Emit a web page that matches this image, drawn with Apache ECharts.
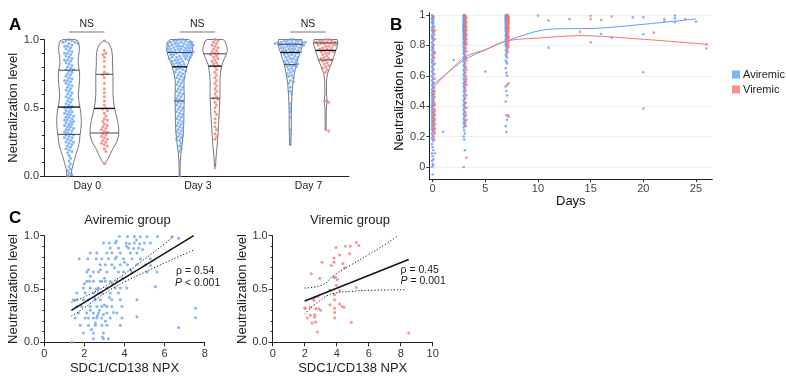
<!DOCTYPE html>
<html><head><meta charset="utf-8">
<script src="https://cdn.jsdelivr.net/npm/echarts@6/dist/echarts.min.js"></script>
<style>html,body{margin:0;padding:0;background:#fff}#c{width:786px;height:383px}</style>
</head><body><div id="c"></div><script>
// ---------------- DATA ----------------
const dayLabels = ['Day 0', 'Day 3', 'Day 7'];
const dayValues = [0, 3, 7];
const nsLabels = ['NS', 'NS', 'NS'];

const av0 = [1.0,0.99,0.99,0.98,0.98,0.97,0.97,0.96,0.95,0.95,0.94,0.93,0.92,0.91,0.90,0.90,0.89,0.88,0.87,0.86,0.85,0.85,0.84,0.83,0.82,0.81,0.80,0.79,0.78,0.78,0.77,0.76,0.75,0.74,0.73,0.72,0.71,0.70,0.70,0.69,0.68,0.67,0.66,0.65,0.64,0.63,0.62,0.61,0.60,0.59,0.58,0.57,0.56,0.55,0.54,0.53,0.52,0.51,0.50,0.50,0.49,0.48,0.47,0.47,0.46,0.45,0.45,0.44,0.43,0.43,0.42,0.41,0.41,0.40,0.40,0.39,0.38,0.38,0.37,0.36,0.36,0.35,0.34,0.34,0.33,0.32,0.32,0.31,0.30,0.30,0.29,0.28,0.28,0.27,0.26,0.25,0.25,0.24,0.23,0.22,0.21,0.20,0.19,0.18,0.17,0.15,0.13,0.11,0.09,0.07,0.05,0.04,0.02,0.01,0.0,-0.05];
const vir0 = [0.99,0.92,0.90,0.89,0.87,0.84,0.80,0.76,0.75,0.74,0.72,0.68,0.64,0.61,0.58,0.55,0.52,0.50,0.49,0.48,0.46,0.44,0.42,0.41,0.40,0.38,0.37,0.36,0.35,0.34,0.33,0.32,0.31,0.30,0.29,0.28,0.27,0.26,0.25,0.24,0.23,0.22,0.20,0.18,0.09];
const av3 = [1.0,1.0,0.99,0.99,0.99,0.98,0.98,0.98,0.98,0.97,0.97,0.97,0.97,0.96,0.96,0.96,0.96,0.95,0.95,0.95,0.95,0.94,0.94,0.94,0.94,0.93,0.93,0.93,0.93,0.92,0.92,0.92,0.92,0.91,0.91,0.91,0.91,0.90,0.90,0.90,0.90,0.89,0.89,0.89,0.88,0.88,0.88,0.87,0.87,0.87,0.86,0.86,0.86,0.85,0.85,0.85,0.84,0.84,0.83,0.83,0.82,0.82,0.81,0.81,0.80,0.80,0.79,0.78,0.78,0.77,0.76,0.76,0.75,0.74,0.73,0.72,0.72,0.71,0.70,0.69,0.68,0.67,0.66,0.65,0.64,0.63,0.62,0.61,0.60,0.59,0.58,0.57,0.56,0.55,0.55,0.54,0.53,0.52,0.51,0.50,0.49,0.48,0.47,0.46,0.45,0.44,0.43,0.42,0.41,0.40,0.39,0.38,0.37,0.36,0.35,0.34,0.33,0.32,0.31,0.30,0.29,0.28,0.27,0.26,0.24,0.22,0.20,0.18,0.11,0.0];
const vir3 = [1.0,0.99,0.98,0.97,0.96,0.95,0.94,0.93,0.92,0.91,0.90,0.90,0.89,0.88,0.87,0.86,0.85,0.84,0.83,0.82,0.81,0.80,0.78,0.76,0.74,0.72,0.70,0.68,0.66,0.64,0.62,0.60,0.58,0.57,0.56,0.54,0.52,0.50,0.47,0.45,0.42,0.39,0.36,0.34,0.31,0.29,0.27,0.06];
const av7 = [1.0,1.0,0.99,0.99,0.99,0.99,0.98,0.98,0.98,0.98,0.98,0.97,0.97,0.97,0.97,0.97,0.96,0.96,0.96,0.96,0.95,0.95,0.95,0.95,0.94,0.94,0.94,0.93,0.93,0.93,0.92,0.92,0.92,0.91,0.91,0.91,0.90,0.90,0.89,0.89,0.88,0.88,0.87,0.87,0.86,0.86,0.85,0.85,0.84,0.84,0.83,0.83,0.82,0.82,0.81,0.81,0.80,0.80,0.79,0.78,0.77,0.76,0.75,0.74,0.73,0.72,0.70,0.69,0.68,0.65,0.62,0.60,0.53,0.50,0.47,0.43,0.34,0.31,0.27,0.23];
const vir7 = [1.0,1.0,0.99,0.99,0.99,0.98,0.98,0.98,0.97,0.97,0.97,0.96,0.96,0.96,0.95,0.95,0.94,0.94,0.93,0.93,0.92,0.92,0.91,0.91,0.90,0.90,0.89,0.88,0.87,0.86,0.86,0.85,0.85,0.84,0.83,0.82,0.81,0.80,0.79,0.78,0.76,0.55,0.54,0.34,0.33];

// violin relative density profiles: [level, relative half width]
const densAv0 = [[1.0,0.45],[0.99,0.68],[0.96,0.78],[0.92,0.8],[0.87,0.72],[0.82,0.7],[0.77,0.8],[0.72,0.82],[0.66,0.78],[0.6,0.72],[0.55,0.75],[0.5,0.85],[0.45,0.92],[0.4,0.95],[0.35,0.92],[0.3,0.85],[0.25,0.8],[0.2,0.68],[0.15,0.5],[0.1,0.35],[0.05,0.22],[0.0,0.16]];
const densVir0 = [[0.99,0.05],[0.97,0.35],[0.93,0.55],[0.88,0.62],[0.82,0.62],[0.75,0.66],[0.68,0.66],[0.6,0.66],[0.55,0.7],[0.5,0.78],[0.45,0.9],[0.4,1.02],[0.35,1.1],[0.3,1.1],[0.25,0.95],[0.2,0.65],[0.15,0.4],[0.12,0.25],[0.09,0.05]];
const densAv3 = [[1.0,0.7],[0.985,0.9],[0.95,0.98],[0.92,1.0],[0.89,0.92],[0.85,0.75],[0.81,0.6],[0.76,0.45],[0.7,0.34],[0.64,0.33],[0.58,0.36],[0.52,0.34],[0.46,0.33],[0.4,0.32],[0.34,0.3],[0.28,0.25],[0.24,0.2],[0.17,0.1],[0.1,0.05],[0.0,0.03]];
const densVir3 = [[1.0,0.6],[0.99,0.75],[0.95,0.9],[0.92,0.95],[0.88,0.82],[0.85,0.67],[0.81,0.51],[0.75,0.42],[0.7,0.38],[0.58,0.38],[0.46,0.32],[0.34,0.25],[0.27,0.2],[0.21,0.15],[0.14,0.08],[0.07,0.04]];
const densAv7 = [[1.0,0.9],[0.963,0.95],[0.93,0.85],[0.9,0.73],[0.86,0.6],[0.826,0.49],[0.79,0.4],[0.75,0.32],[0.68,0.2],[0.58,0.12],[0.46,0.08],[0.34,0.08],[0.23,0.04]];
const densVir7 = [[1.0,0.88],[0.965,0.94],[0.91,0.75],[0.85,0.55],[0.79,0.3],[0.75,0.15],[0.7,0.07],[0.6,0.06],[0.55,0.12],[0.5,0.05],[0.4,0.04],[0.34,0.03]];

// quartiles [Q1, median, Q3]
const qAv0 = [0.305, 0.505, 0.775];
const qVir0 = [0.315, 0.495, 0.745];
const qAv3 = [0.55, 0.80, 0.905];
const qVir3 = [0.57, 0.805, 0.895];
const qAv7 = [0.816, 0.905, 0.965];
const qVir7 = [0.85, 0.92, 0.975];

// panel B: other days
const bAvExtraX = [1,2,5,10,11,11,13,16,17,19,20,20,22,23,23,23,25];
const bAvExtraY = [0.232,0.704,0.628,0.996,0.963,0.784,0.973,0.875,0.851,0.984,0.985,0.873,0.957,0.996,0.978,0.952,0.957];
const bVirExtraX = [14,15,15,15,16,17,20,20,21,22,24,26,26];
const bVirExtraY = [0.89,0.995,0.973,0.82,0.967,0.99,0.623,0.384,0.884,0.973,0.973,0.807,0.779];
// smoothed trend lines
const trendAvX = [0,3,5,7,11,16,25];
const trendAvY = [0.537,0.704,0.77,0.829,0.906,0.914,0.974];
const trendVirX = [0,3,5,7,10,14,20,26];
const trendVirY = [0.518,0.72,0.772,0.829,0.848,0.864,0.84,0.807];

// panel C: SDC1/CD138 NPX vs neutralization level
const cAvX = [3.75,4.15,4.49,4.79,5.12,5.65,6.37,6.70, 2.95,3.24,3.54,4.08,4.25,4.49,4.75,4.99,5.29, 3.29,3.70,4.20,4.45,4.70, 2.29,2.62,3.12,3.37,3.79,4.29,4.62, 1.74,2.17,2.59,2.87,3.20,3.54,3.95,4.37,4.79,5.29, 2.79,3.04,3.37,3.79,4.15,4.62,5.04, 2.12,2.45,2.70,3.12,3.70,3.95,4.37,5.12,5.62, 2.12,2.25,2.45,2.79,2.87,3.04,3.29,3.62, 1.95,2.29,2.70,3.12,3.54,3.79,4.12,5.54, 1.62,2.04,2.45,2.70,2.87,3.29,3.70, 1.45,1.95,2.20,2.54,2.79,3.37,3.79,4.62,7.54, 1.62,1.87,2.29,2.62,2.87,3.12,3.37,3.87, 1.70,2.12,2.45,2.70,3.12,3.62, 1.54,2.04,2.20,2.45,2.62,2.87,3.29,3.87,4.62,7.54, 1.79,2.20,2.54,2.87,3.12,3.79,6.70, 1.95,2.45,2.95, 2.45,2.95,3.20, 1.37, 2.30,2.60,3.00,3.40,2.50,2.75,2.95,3.05,2.30,2.55,2.65,3.50,3.90,4.30,4.10,3.60,4.60,2.80,3.25,1.60,2.00,3.60,4.00,2.35,3.45,3.00,2.20,4.90,5.30,2.90];
const cAvY = [0.993,0.993,0.993,0.99,0.99,0.993,0.99,0.975, 0.931,0.931,0.931,0.931,0.925,0.931,0.925,0.931,0.931, 0.884,0.884,0.884,0.88,0.884, 0.837,0.837,0.837,0.84,0.837,0.837,0.837, 0.784,0.784,0.784,0.784,0.784,0.784,0.784,0.784,0.784,0.784, 0.728,0.728,0.728,0.728,0.728,0.728,0.728, 0.659,0.659,0.659,0.659,0.659,0.659,0.659,0.659,0.659, 0.572,0.572,0.572,0.572,0.572,0.572,0.572,0.572, 0.509,0.509,0.509,0.509,0.509,0.509,0.509,0.52, 0.462,0.462,0.462,0.462,0.462,0.462,0.462, 0.40,0.40,0.40,0.40,0.40,0.40,0.40,0.40,0.32, 0.337,0.337,0.337,0.337,0.337,0.337,0.337,0.337, 0.275,0.275,0.275,0.275,0.275,0.275, 0.228,0.228,0.228,0.228,0.228,0.228,0.228,0.228,0.24,0.23, 0.159,0.159,0.159,0.159,0.159,0.159,0.14, 0.087,0.087,0.087, 0.034,0.034,0.034, 0.0, 0.62,0.50,0.60,0.55,0.42,0.30,0.26,0.20,0.30,0.18,0.25,0.70,0.60,0.68,0.90,0.95,0.96,0.68,0.42,0.40,0.55,0.80,0.75,0.12,0.28,0.35,0.68,0.87,0.72,0.05];
const cVirX = [5.23,5.39,4.54,4.85,3.96,4.18,4.81,3.08,3.83,3.83,3.66,4.39,4.50,2.41,3.91,3.81,2.94,4.04,3.98,5.23,3.56,4.18,2.83,2.62,2.48,2.58,3.87,3.87,2.04,2.35,2.87,3.00,3.58,3.87,4.18,4.33,4.46,3.87,2.35,2.62,2.16,2.62,2.46,3.87,2.68,4.91,2.79,8.50,2.69,2.00];
const cVirY = [0.937,0.909,0.90,0.90,0.89,0.82,0.83,0.75,0.79,0.75,0.72,0.74,0.70,0.644,0.61,0.61,0.60,0.59,0.534,0.515,0.49,0.487,0.43,0.42,0.406,0.393,0.446,0.40,0.32,0.328,0.315,0.30,0.353,0.32,0.36,0.337,0.328,0.28,0.253,0.259,0.228,0.234,0.18,0.228,0.19,0.187,0.096,0.087,0.315,0.32];
// regression fits and 95% confidence bands
const fitAvX = [1.35, 7.45];
const fitAvY = [0.30, 1.0];
const ciAvUpper = [[1.35,0.375],[2,0.426],[2.5,0.471],[3,0.52],[3.5,0.578],[4,0.641],[5,0.781],[6,0.924],[6.45,0.995]];
const ciAvLower = [[1.35,0.245],[2,0.324],[2.5,0.393],[3,0.458],[3.5,0.516],[4,0.567],[5,0.657],[6,0.744],[7,0.828],[7.45,0.865]];
const fitVirX = [2.0, 8.5];
const fitVirY = [0.388, 0.777];
const ciVirUpper = [[2.0,0.509],[3.04,0.534],[3.87,0.634],[4.91,0.727],[5.96,0.82],[7.0,0.915],[7.83,1.0]];
const ciVirLower = [[2.0,0.265],[2.83,0.378],[3.87,0.46],[4.91,0.478],[5.96,0.487],[8.25,0.493]];
const statAv = ['ρ = 0.54', '<', '0.001'];
const statVir = ['ρ = 0.45', '=', '0.001'];

// ---------------- STYLE / LAYOUT ----------------
const FONT = 'Liberation Sans, Arial, sans-serif';
const BLUE = '#619CFF', RED = '#F8766D';
const BLUE_PT = '#64a2f5', RED_PT = '#f57a78';
const GA = {left: 44, top: 39.5, width: 305, height: 136.5};
const XA = {min: -0.391, max: 2.366};
const GB = {left: 429.3, top: 12.7, width: 283, height: 166.4};
const GC1 = {left: 44.3, top: 235.7, width: 160.4, height: 106.6};
const GC2 = {left: 272.7, top: 235.7, width: 160, height: 106.6};
const GROUP_OFF = [-0.165, 0.155];
const VIOLIN_HALF = 13; // px for relative density 1
const pxPerXA = GA.width / (XA.max - XA.min);
const pxPerYA = GA.height;

const violins = [
  {day: 0, g: 0, vals: av0, dens: densAv0, q: qAv0},
  {day: 0, g: 1, vals: vir0, dens: densVir0, q: qVir0},
  {day: 1, g: 0, vals: av3, dens: densAv3, q: qAv3},
  {day: 1, g: 1, vals: vir3, dens: densVir3, q: qVir3},
  {day: 2, g: 0, vals: av7, dens: densAv7, q: qAv7},
  {day: 2, g: 1, vals: vir7, dens: densVir7, q: qVir7}
];

function swarm(vals, d) {
  const idx = vals.map((v, i) => i).sort((a, b) => vals[b] - vals[a]);
  const placed = []; const off = new Array(vals.length).fill(0);
  for (const i of idx) {
    const y = vals[i] * pxPerYA;
    for (let k = 0; k < 400; k++) {
      const o = (k % 2 ? 1 : -1) * Math.ceil(k / 2) * d * 0.5;
      let ok = true;
      for (const p of placed) {
        const dy = p[1] - y;
        if (Math.abs(dy) < d) { const dx = p[0] - o; if (dx * dx + dy * dy < d * d) { ok = false; break; } }
      }
      if (ok) { off[i] = o; placed.push([o, y]); break; }
    }
  }
  return off;
}
function widthAt(dens, y) {
  for (let i = 0; i < dens.length - 1; i++) {
    const a = dens[i], b = dens[i + 1];
    if (y <= a[0] && y >= b[0]) { const t = (a[0] - y) / (a[0] - b[0] || 1); return a[1] + (b[1] - a[1]) * t; }
  }
  return 0;
}

const ptsAv = [], ptsVir = [];
violins.forEach(v => {
  const off = swarm(v.vals, 3.0);
  const cx = v.day + GROUP_OFF[v.g];
  v.vals.forEach((val, i) => (v.g === 0 ? ptsAv : ptsVir).push([cx + off[i] / pxPerXA, val]));
});

// panel B points
const jit = [-0.06, 0, 0.06];
const bAv = [], bVir = [];
[av0, av3, av7].forEach((arr, k) => arr.forEach((v, i) => bAv.push([dayValues[k] + jit[i % 3], v])));
[vir0, vir3, vir7].forEach((arr, k) => arr.forEach((v, i) => bVir.push([dayValues[k] + 0.15 + jit[i % 3], v])));
bAvExtraX.forEach((x, i) => bAv.push([x, bAvExtraY[i]]));
bVirExtraX.forEach((x, i) => bVir.push([x, bVirExtraY[i]]));

const axisLineBlack = {show: true, onZero: false, lineStyle: {color: '#222', width: 1}};
const lab = (sz, col) => ({fontFamily: FONT, fontSize: sz, color: col || '#333'});
const dotted = {color: '#111', width: 1, type: [1.2, 2]};

const chart = echarts.init(document.getElementById('c'), null, {renderer: 'canvas', width: 786, height: 383});
const option = {
  animation: false,
  backgroundColor: '#fff',
  textStyle: {fontFamily: FONT},
  grid: [GA, GB, GC1, GC2].map(g => Object.assign({containLabel: false}, g)),
  legend: {
    left: 727, top: 64, orient: 'vertical', itemWidth: 8, itemHeight: 8, itemGap: 4,
    textStyle: Object.assign(lab(11, '#222'), {padding: [0, 0, 0, -2]}),
    data: [{name: 'Aviremic', icon: 'rect', itemStyle: {color: BLUE}}, {name: 'Viremic', icon: 'rect', itemStyle: {color: RED}}]
  },
  xAxis: [
    {gridIndex: 0, type: 'value', min: XA.min, max: XA.max, axisLine: axisLineBlack, axisTick: {show: false}, axisLabel: {show: false}, splitLine: {show: false}},
    {gridIndex: 1, type: 'value', min: -0.32, max: 26.55, axisLine: axisLineBlack,
      axisTick: {show: true, length: 3, customValues: [0,5,10,15,20,25], lineStyle: {color: '#333'}},
      axisLabel: Object.assign(lab(11, '#444'), {customValues: [0,5,10,15,20,25], margin: 4}),
      splitLine: {show: false}, name: 'Days', nameLocation: 'middle', nameGap: 14, nameTextStyle: lab(13, '#111')},
    {gridIndex: 2, type: 'value', min: 0, max: 8, interval: 2, axisLine: axisLineBlack,
      axisTick: {length: 4, lineStyle: {color: '#222'}}, axisLabel: Object.assign(lab(11, '#333'), {margin: 6}),
      splitLine: {show: false}, name: 'SDC1/CD138 NPX', nameLocation: 'middle', nameGap: 20, nameTextStyle: lab(13, '#222')},
    {gridIndex: 3, type: 'value', min: 0, max: 10, interval: 2, axisLine: axisLineBlack,
      axisTick: {length: 4, lineStyle: {color: '#222'}}, axisLabel: Object.assign(lab(11, '#333'), {margin: 6}),
      splitLine: {show: false}, name: 'SDC1/CD138 NPX', nameLocation: 'middle', nameGap: 20, nameTextStyle: lab(13, '#222')}
  ],
  yAxis: [
    {gridIndex: 0, type: 'value', min: 0, max: 1, interval: 0.5, axisLine: axisLineBlack,
      axisTick: {length: 4, lineStyle: {color: '#222'}}, minorTick: {show: true, splitNumber: 5, length: 2, lineStyle: {color: '#222'}},
      axisLabel: Object.assign(lab(11, '#333'), {formatter: v => v.toFixed(1), margin: 5}), splitLine: {show: false},
      name: 'Neutralization level', nameLocation: 'middle', nameGap: 21, nameTextStyle: lab(13, '#222')},
    {gridIndex: 1, type: 'value', min: -0.08, max: 1.015, axisLine: axisLineBlack,
      axisTick: {show: true, length: 3, customValues: [0,0.2,0.4,0.6,0.8,1], lineStyle: {color: '#333'}},
      axisLabel: Object.assign(lab(11, '#444'), {customValues: [0,0.2,0.4,0.6,0.8,1], margin: 4}),
      splitLine: {show: true, lineStyle: {color: '#EBF0F5', width: 1}},
      name: 'Neutralization level', nameLocation: 'middle', nameGap: 20, nameTextStyle: lab(13, '#111')},
    {gridIndex: 2, type: 'value', min: 0, max: 1, interval: 0.5, axisLine: axisLineBlack,
      axisTick: {length: 4, lineStyle: {color: '#222'}}, minorTick: {show: true, splitNumber: 5, length: 2, lineStyle: {color: '#222'}},
      axisLabel: Object.assign(lab(11, '#333'), {formatter: v => v.toFixed(1), margin: 5}), splitLine: {show: false},
      name: 'Neutralization level', nameLocation: 'middle', nameGap: 22, nameTextStyle: lab(13, '#222')},
    {gridIndex: 3, type: 'value', min: 0, max: 1, interval: 0.5, axisLine: axisLineBlack,
      axisTick: {length: 4, lineStyle: {color: '#222'}}, minorTick: {show: true, splitNumber: 5, length: 2, lineStyle: {color: '#222'}},
      axisLabel: Object.assign(lab(11, '#333'), {formatter: v => v.toFixed(1), margin: 5}), splitLine: {show: false},
      name: 'Neutralization level', nameLocation: 'middle', nameGap: 22, nameTextStyle: lab(13, '#222')}
  ],
  series: [
    {type: 'custom', name: 'violin', xAxisIndex: 0, yAxisIndex: 0, z: 1, clip: false,
      data: violins.map((v, i) => [i]),
      renderItem: (params, api) => {
        const v = violins[api.value(0)];
        const cx = v.day + GROUP_OFF[v.g];
        const right = [], left = [];
        v.dens.forEach(([y, w]) => {
          const p = api.coord([cx, y]);
          right.push([p[0] + w * VIOLIN_HALF, p[1]]);
          left.unshift([p[0] - w * VIOLIN_HALF, p[1]]);
        });
        return {type: 'polygon', shape: {points: right.concat(left)}, style: {fill: 'none', stroke: '#555', lineWidth: 0.8}};
      }},
    {type: 'scatter', name: 'avA', xAxisIndex: 0, yAxisIndex: 0, z: 2, symbolSize: 3, data: ptsAv, itemStyle: {color: BLUE_PT}},
    {type: 'scatter', name: 'virA', xAxisIndex: 0, yAxisIndex: 0, z: 2, symbolSize: 3, data: ptsVir, itemStyle: {color: RED_PT}},
    {type: 'custom', name: 'quart', xAxisIndex: 0, yAxisIndex: 0, z: 3, clip: false,
      data: violins.flatMap((v, i) => v.q.map((q, k) => [i, k])),
      renderItem: (params, api) => {
        const v = violins[api.value(0)]; const k = api.value(1); const q = v.q[k];
        const cx = v.day + GROUP_OFF[v.g];
        const p = api.coord([cx, q]); const w = widthAt(v.dens, q) * VIOLIN_HALF;
        return {type: 'line', shape: {x1: p[0] - w, y1: p[1], x2: p[0] + w, y2: p[1]},
          style: {stroke: k === 1 ? '#111' : '#333', lineWidth: k === 1 ? 1.4 : 0.9}};
      }},
    {type: 'custom', name: 'ns', xAxisIndex: 0, yAxisIndex: 0, z: 3, clip: false,
      data: dayLabels.map((d, i) => [i]),
      renderItem: (params, api) => {
        const i = api.value(0);
        const a = api.coord([i + GROUP_OFF[0], 1.055]), b = api.coord([i + GROUP_OFF[1], 1.055]);
        const base = api.coord([i, 0]);
        return {type: 'group', children: [
          {type: 'line', shape: {x1: a[0], y1: a[1], x2: b[0], y2: b[1]}, style: {stroke: '#777', lineWidth: 1}},
          {type: 'text', style: {text: nsLabels[i], x: (a[0] + b[0]) / 2, y: a[1] - 2, align: 'center', verticalAlign: 'bottom', fontFamily: FONT, fontSize: 10.5, fill: '#222'}},
          {type: 'text', style: {text: dayLabels[i], x: base[0], y: base[1] + 5, align: 'center', verticalAlign: 'top', fontFamily: FONT, fontSize: 10.5, fill: '#222'}}
        ]};
      }},
    {type: 'scatter', name: 'Aviremic', xAxisIndex: 1, yAxisIndex: 1, symbolSize: 2.6, data: bAv, itemStyle: {color: BLUE}, z: 2},
    {type: 'scatter', name: 'Viremic', xAxisIndex: 1, yAxisIndex: 1, symbolSize: 2.6, data: bVir, itemStyle: {color: RED}, z: 2},
    {type: 'line', name: 'Aviremic', xAxisIndex: 1, yAxisIndex: 1, showSymbol: false, smooth: 0.3, data: trendAvX.map((x, i) => [x, trendAvY[i]]), lineStyle: {color: BLUE, width: 1}, itemStyle: {color: BLUE}, z: 3},
    {type: 'line', name: 'Viremic', xAxisIndex: 1, yAxisIndex: 1, showSymbol: false, smooth: 0.3, data: trendVirX.map((x, i) => [x, trendVirY[i]]), lineStyle: {color: RED, width: 1}, itemStyle: {color: RED}, z: 3},
    {type: 'scatter', name: 'cAv', xAxisIndex: 2, yAxisIndex: 2, symbolSize: 3, data: cAvX.map((x, i) => [x, cAvY[i]]), itemStyle: {color: BLUE_PT}},
    {type: 'line', name: 'fitAv', xAxisIndex: 2, yAxisIndex: 2, showSymbol: false, data: fitAvX.map((x, i) => [x, fitAvY[i]]), lineStyle: {color: '#111', width: 1.5}, z: 3},
    {type: 'line', name: 'ciAvU', xAxisIndex: 2, yAxisIndex: 2, showSymbol: false, smooth: true, data: ciAvUpper, lineStyle: dotted, z: 3},
    {type: 'line', name: 'ciAvL', xAxisIndex: 2, yAxisIndex: 2, showSymbol: false, smooth: true, data: ciAvLower, lineStyle: dotted, z: 3},
    {type: 'scatter', name: 'cVir', xAxisIndex: 3, yAxisIndex: 3, symbolSize: 3, data: cVirX.map((x, i) => [x, cVirY[i]]), itemStyle: {color: RED_PT}},
    {type: 'line', name: 'fitVir', xAxisIndex: 3, yAxisIndex: 3, showSymbol: false, data: fitVirX.map((x, i) => [x, fitVirY[i]]), lineStyle: {color: '#111', width: 1.5}, z: 3},
    {type: 'line', name: 'ciVirU', xAxisIndex: 3, yAxisIndex: 3, showSymbol: false, smooth: true, data: ciVirUpper, lineStyle: dotted, z: 3},
    {type: 'line', name: 'ciVirL', xAxisIndex: 3, yAxisIndex: 3, showSymbol: false, smooth: true, data: ciVirLower, lineStyle: dotted, z: 3}
  ],
  graphic: [
    {type: 'text', left: 9, top: 17, style: {text: 'A', fontFamily: FONT, fontSize: 17, fontWeight: 'bold', fill: '#000'}},
    {type: 'text', left: 390, top: 17, style: {text: 'B', fontFamily: FONT, fontSize: 17, fontWeight: 'bold', fill: '#000'}},
    {type: 'text', left: 9, top: 210, style: {text: 'C', fontFamily: FONT, fontSize: 17, fontWeight: 'bold', fill: '#000'}},
    {type: 'text', x: 127.5, y: 220, style: {text: 'Aviremic group', align: 'center', verticalAlign: 'middle', fontFamily: FONT, fontSize: 13, fill: '#222'}},
    {type: 'text', x: 350, y: 220, style: {text: 'Viremic group', align: 'center', verticalAlign: 'middle', fontFamily: FONT, fontSize: 13, fill: '#222'}},
    {type: 'text', x: 176, y: 271, style: {text: statAv[0], verticalAlign: 'middle', fontFamily: FONT, fontSize: 10.5, fill: '#222'}},
    {type: 'text', x: 175, y: 283.5, style: {text: '{i|P} ' + statAv[1] + ' ' + statAv[2], verticalAlign: 'middle', fontFamily: FONT, fontSize: 10.5, fill: '#222', rich: {i: {fontStyle: 'italic', fontFamily: FONT, fontSize: 10.5, fill: '#222'}}}},
    {type: 'text', x: 400.5, y: 270.5, style: {text: statVir[0], verticalAlign: 'middle', fontFamily: FONT, fontSize: 10.5, fill: '#222'}},
    {type: 'text', x: 400.5, y: 281.5, style: {text: '{i|P} ' + statVir[1] + ' ' + statVir[2], verticalAlign: 'middle', fontFamily: FONT, fontSize: 10.5, fill: '#222', rich: {i: {fontStyle: 'italic', fontFamily: FONT, fontSize: 10.5, fill: '#222'}}}}
  ]
};
chart.setOption(option);
</script></body></html>
